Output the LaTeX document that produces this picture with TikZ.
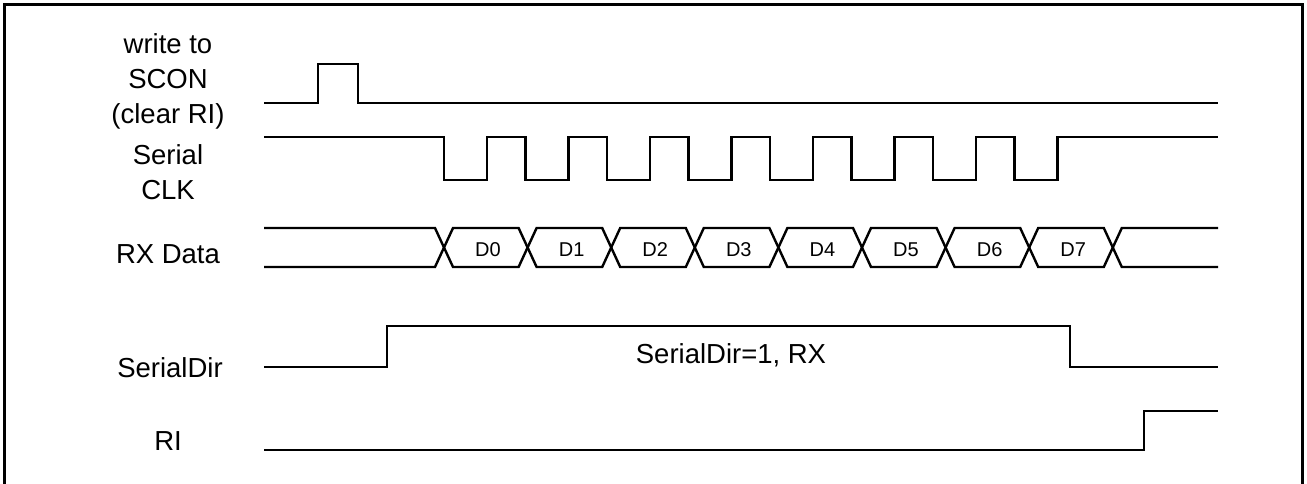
\documentclass[tikz,border=0pt]{standalone}
\usepackage{fontspec}
\setmainfont{Liberation Sans}

\begin{document}
\begin{tikzpicture}[
    x=1pt, y=-1pt,
    lbl/.style={
        font=\fontsize{27.5}{35}\selectfont,
        align=center,
        anchor=base,
        inner sep=0pt
    },
    dlbl/.style={
        font=\fontsize{20}{24}\selectfont,
        anchor=base,
        inner sep=0pt
    },
    sig/.style={line width=2.4pt},
    frame/.style={line width=3pt}
]
    \useasboundingbox (0,0) rectangle (1307,483);
    %% Frame
    \draw[frame] (4,4) rectangle (1302,495);

    %% Signal names (base = last line)
    \node[lbl] (scon) at (168,123) {write to\\SCON\\(clear RI)};
    \node[lbl] (clk) at (168,199) {Serial\\CLK};
    \node[lbl] (rxd) at (168,263) {RX Data};
    \node[lbl] (dir) at (170,377) {SerialDir};
    \node[lbl] (ri) at (168,450) {RI};

    %% write to SCON
    \draw[sig] (264,103) -| (318,64) -| (358,103) -- (1218,103);

    %% Serial CLK
    \draw[sig] (264,137) foreach \k in {0,...,7} {
        -- ({444+81.5*\k},137) -- ({444+81.5*\k},180)
        -- ({487+81.5*\k},180) -- ({487+81.5*\k},137)
    } -- (1218,137);

    %% RX Data
    \draw[sig] (264,228) foreach \k [evaluate=\k as \c using {444+83.6*\k},
            evaluate=\k as \ya using {228+39*mod(\k,2)},
            evaluate=\k as \yb using {267-39*mod(\k,2)}] in {0,...,8} {
        -- (\c-9,\ya) -- (\c+9,\yb)
    } -- (1218,267);
    \draw[sig] (264,267) foreach \k [evaluate=\k as \c using {444+83.6*\k},
            evaluate=\k as \ya using {267-39*mod(\k,2)},
            evaluate=\k as \yb using {228+39*mod(\k,2)}] in {0,...,8} {
        -- (\c-9,\ya) -- (\c+9,\yb)
    } -- (1218,228);
    \foreach \k in {0,...,7}
        \node[dlbl] (d\k) at ({488+83.6*\k},256) {D\k};

    %% SerialDir
    \draw[sig] (264,367) -| (387,326) -| (1070,367) -- (1218,367);
    \node[lbl] (dirtxt) at (731,363) {SerialDir=1, RX};

    %% RI
    \draw[sig] (264,450) -| (1144,411) -- (1218,411);
\end{tikzpicture}
\end{document}
